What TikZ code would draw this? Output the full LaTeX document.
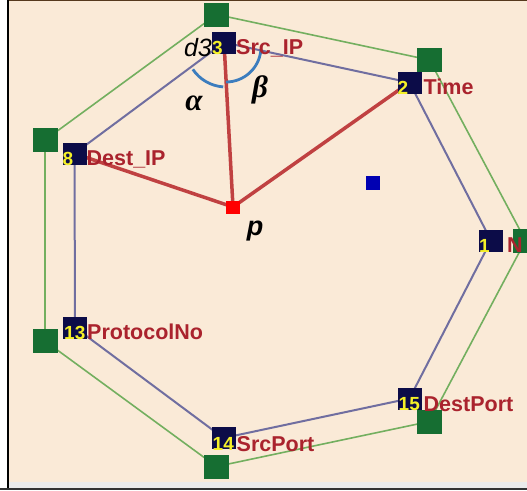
\documentclass[tikz,border=0pt]{standalone}
\usepackage{fontspec}
\setsansfont{Liberation Sans}
\newfontfamily\symfont{Liberation Serif}
\definecolor{paper}{RGB}{250,234,215}
\definecolor{navy}{RGB}{12,12,72}
\definecolor{dgreen}{RGB}{22,110,50}
\definecolor{lgreen}{RGB}{115,175,95}
\definecolor{slate}{RGB}{112,110,160}
\definecolor{lblred}{RGB}{170,35,45}
\definecolor{edgered}{RGB}{192,65,65}
\definecolor{numyel}{RGB}{245,240,40}
\definecolor{arcblue}{RGB}{60,125,190}
\pgfdeclarelayer{back}
\pgfdeclarelayer{wires}
\pgfsetlayers{back,wires,main}
\tikzset{
  attr/.style={fill=navy, minimum width=24pt, minimum height=22pt, inner sep=0pt, outer sep=0pt},
  hub/.style={fill=dgreen, minimum width=25pt, minimum height=24pt, inner sep=0pt, outer sep=0pt},
  num/.style={text=numyel, font=\sffamily\bfseries\fontsize{19}{19}\selectfont, inner sep=0pt, anchor=base west},
  lbl/.style={text=lblred, font=\sffamily\bfseries\fontsize{21.5}{21.5}\selectfont, inner sep=0pt, anchor=base west},
  ring/.style={draw=lgreen, line width=1.6pt},
  link/.style={draw=slate, line width=2pt},
  spoke/.style={draw=edgered, line width=3.5pt},
  angarc/.style={draw=arcblue, line width=2.8pt},
  greek/.style={inner sep=0pt, font=\symfont\bfseries\itshape\fontsize{31}{31}\selectfont}
}
\begin{document}
\begin{tikzpicture}[x=1pt,y=-1pt]
\useasboundingbox (0,0) rectangle (527,490);
\clip (0,0) rectangle (527,490);

% frame and canvas
\begin{pgfonlayer}{back}
  \fill[white] (0,0) rectangle (527,490);
  \fill[paper] (8,1) rectangle (527,481.5);
  \fill[black!8] (8,481.5) rectangle (527,487.5);
  \fill[black!80] (0,487.5) rectangle (527,490);
  \draw[black!55!brown, line width=1.5pt] (8,0.6) -- (527,0.6);
  \draw[black, line width=2pt] (7.5,0) -- (7.5,488);
\end{pgfonlayer}

% outer hubs
\node[hub] (g1) at (216.5,14.5) {};
\node[hub] (g2) at (429.5,60) {};
\node[hub] (g3) at (525.5,240.5) {};
\node[hub] (g4) at (429.5,421.5) {};
\node[hub] (g5) at (216.5,466.5) {};
\node[hub] (g6) at (45,341) {};
\node[hub] (g7) at (45,140) {};

% attribute vertices
\node[attr] (a3)  at (224,42.5) {};
\node[attr] (a2)  at (409.5,82.5) {};
\node[attr] (a1)  at (491,240.5) {};
\node[attr] (a15) at (409.5,398.5) {};
\node[attr] (a14) at (223.5,438) {};
\node[attr] (a13) at (75,327.5) {};
\node[attr] (a8)  at (74.5,153.5) {};

% data points
\node[fill=red, minimum width=14pt, minimum height=13pt, inner sep=0pt] (p) at (233,207) {};
\node[fill=blue!70!black, minimum width=14pt, minimum height=14pt, inner sep=0pt] (q) at (373,183) {};

% polygons and spokes
\begin{pgfonlayer}{wires}
  \draw[ring] (g1.center) -- (g2.center) -- (g3.center) -- (g4.center) -- (g5.center) -- (g6.center) -- (g7.center) -- cycle;
  \draw[link] (a3.center) -- (a2.center) -- (a1.center) -- (a15.center) -- (a14.center) -- (a13.center) -- (a8.center) -- cycle;
  \draw[spoke] (p.center) -- (a3.center);
  \draw[spoke] (p.center) -- (a2.center);
  \draw[spoke] (p.center) -- (a8.center);
\end{pgfonlayer}

% angle arcs at vertex 3
\coordinate (v) at (226,47);
\draw[angarc] ([shift={(146:40)}]v) arc[start angle=146, end angle=94, radius=40];
\draw[angarc] ([shift={(90:35)}]v) arc[start angle=90, end angle=6, radius=35];

% vertex numbers and names
\foreach \n/\t/\dx in {a3/3/0, a2/2/0, a1/1/0, a15/15/1, a14/14/1, a13/13/1, a8/8/0} {
  \node[num] at ([xshift=\dx pt, yshift=-1pt]\n.south west) {\t};
}
\node[lbl] (l3)  at ([xshift=0pt, yshift=-1pt]a3.south east) {Src\_IP};
\node[lbl] (l2)  at ([xshift=2pt, yshift=-1pt]a2.south east) {Time};
\node[lbl] (l1)  at ([xshift=4pt, yshift=-1pt]a1.south east) {N};
\node[lbl] (l15) at ([xshift=2pt, yshift=-2pt]a15.south east) {DestPort};
\node[lbl] (l14) at ([xshift=1pt, yshift=-2pt]a14.south east) {SrcPort};
\node[lbl] (l13) at ([xshift=0pt, yshift=-1pt]a13.south east) {ProtocolNo};
\node[lbl] (l8)  at ([xshift=0pt, yshift=-1pt]a8.south east) {Dest\_IP};

% symbol labels
\node[inner sep=0pt, font=\sffamily\itshape\fontsize{25}{25}\selectfont] (d3) at (198,48) {d3};
\node[greek] (al) at (194,103) {α};
\node[greek] (be) at (260,90) {β};
\node[greek, font=\sffamily\bfseries\itshape\fontsize{27}{27}\selectfont] (pl) at (255,231) {p};
\end{tikzpicture}
\end{document}
